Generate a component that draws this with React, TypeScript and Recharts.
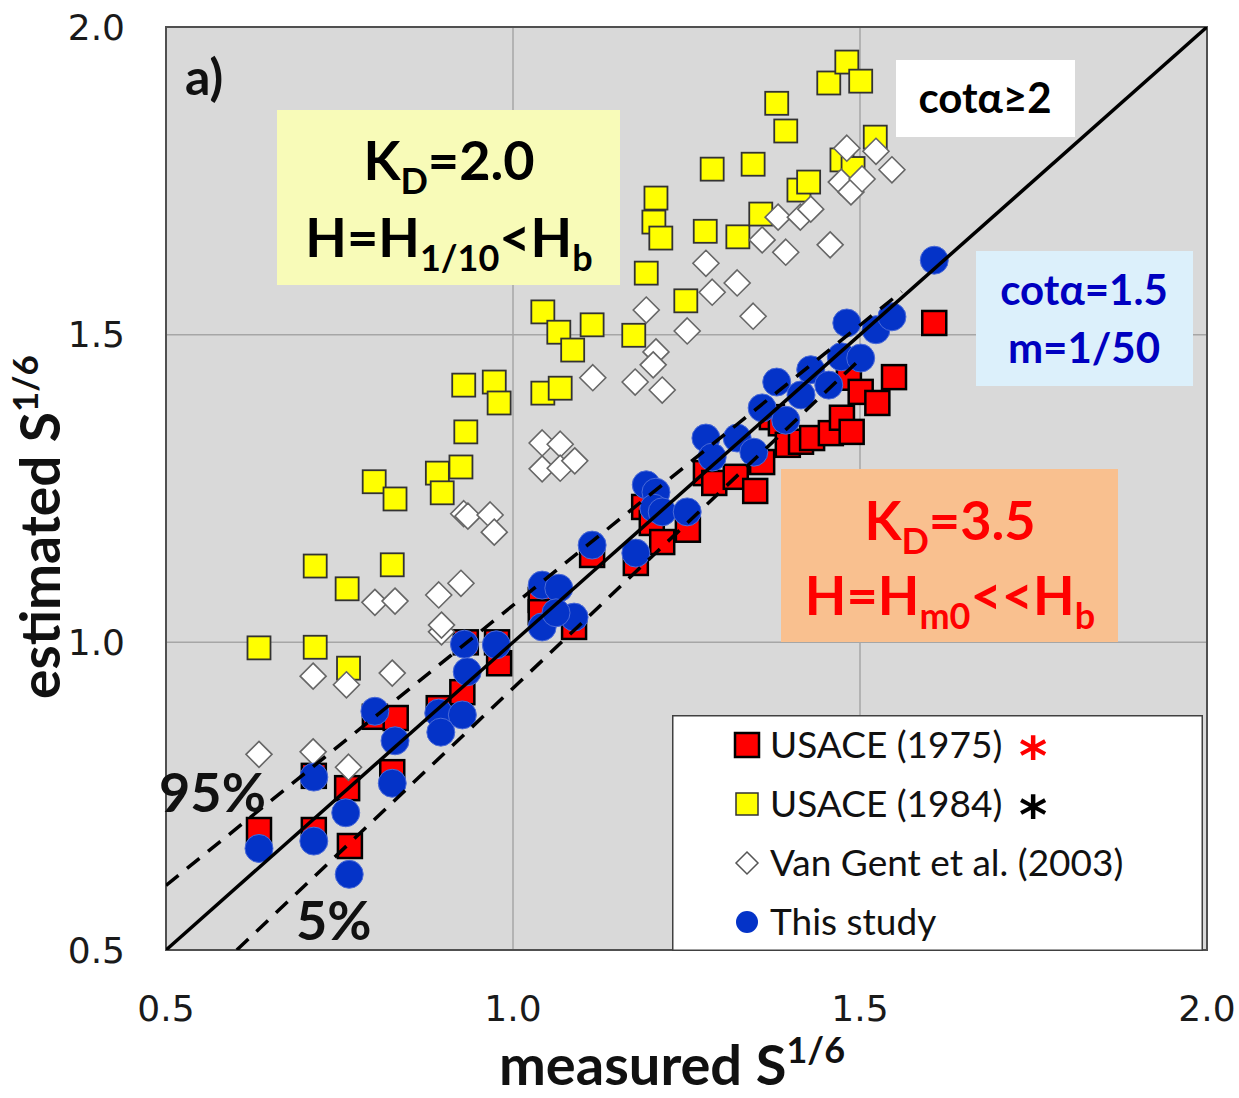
import {
  ScatterChart,
  Scatter,
  XAxis,
  YAxis,
  CartesianGrid,
  Legend,
  ReferenceArea,
} from 'recharts';

type Pt = { x: number; y: number };

const pts = (rows: number[][]): Pt[] => rows.map(([x, y]) => ({ x, y }));

const AXIS_TICKS = [0.5, 1.0, 1.5, 2.0];

// USACE (1975), K_D = 3.5, H = Hm0
const usace1975 = pts([
  [0.634, 0.695], [0.713, 0.695], [0.765, 0.669], [0.761, 0.763], [0.713, 0.783],
  [0.826, 0.789], [0.801, 0.879], [0.831, 0.877], [0.893, 0.893], [0.927, 0.919],
  [0.98, 0.966], [0.932, 1.0], [0.977, 1.0], [1.04, 1.069], [1.04, 1.049],
  [1.088, 1.025], [1.114, 1.142], [1.177, 1.129], [1.189, 1.22], [1.2, 1.194],
  [1.215, 1.163], [1.252, 1.183], [1.278, 1.275], [1.29, 1.259], [1.321, 1.269],
  [1.349, 1.246], [1.359, 1.293], [1.373, 1.366], [1.386, 1.356], [1.396, 1.321],
  [1.415, 1.326], [1.431, 1.332], [1.458, 1.34], [1.474, 1.365], [1.488, 1.342],
  [1.484, 1.43], [1.501, 1.407], [1.525, 1.389], [1.549, 1.431], [1.607, 1.519],
]);

// USACE (1984), K_D = 2.0, H = H1/10
const usace1984 = pts([
  [0.634, 0.991], [0.715, 1.124], [0.715, 0.992], [0.761, 1.087], [0.763, 0.958],
  [0.8, 1.261], [0.83, 1.233], [0.826, 1.126], [0.891, 1.275], [0.898, 1.243],
  [0.925, 1.285], [0.932, 1.342], [0.929, 1.418], [0.973, 1.423], [0.98, 1.389],
  [1.043, 1.405], [1.068, 1.413], [1.043, 1.537], [1.066, 1.504], [1.086, 1.475],
  [1.114, 1.516], [1.174, 1.499], [1.192, 1.6], [1.203, 1.683], [1.206, 1.722],
  [1.213, 1.657], [1.249, 1.555], [1.277, 1.668], [1.287, 1.769], [1.324, 1.659],
  [1.346, 1.777], [1.357, 1.696], [1.38, 1.876], [1.393, 1.831], [1.412, 1.735],
  [1.426, 1.748], [1.455, 1.909], [1.481, 1.943], [1.501, 1.912], [1.474, 1.784],
  [1.49, 1.77], [1.522, 1.821],
]);

// Van Gent et al. (2003)
const vanGent2003 = pts([
  [0.634, 0.818], [0.712, 0.822], [0.763, 0.797], [0.712, 0.945], [0.76, 0.931],
  [0.826, 0.95], [0.897, 1.017], [0.897, 1.028], [0.893, 1.077], [0.925, 1.096],
  [0.801, 1.065], [0.83, 1.067], [0.929, 1.209], [0.935, 1.205], [0.967, 1.207],
  [0.973, 1.179], [1.042, 1.324], [1.068, 1.322], [1.042, 1.282], [1.068, 1.283],
  [1.089, 1.295], [1.115, 1.43], [1.176, 1.423], [1.215, 1.41], [1.206, 1.472],
  [1.202, 1.451], [1.192, 1.54], [1.251, 1.506], [1.278, 1.616], [1.287, 1.569],
  [1.323, 1.584], [1.346, 1.53], [1.359, 1.654], [1.393, 1.634], [1.457, 1.646],
  [1.382, 1.691], [1.414, 1.691], [1.429, 1.704], [1.481, 1.803], [1.523, 1.798],
  [1.546, 1.768], [1.473, 1.748], [1.487, 1.732], [1.503, 1.753],
]);

// This study
const thisStudy = pts([
  [0.634, 0.665], [0.713, 0.677], [0.764, 0.623], [0.713, 0.781], [0.759, 0.723],
  [0.826, 0.771], [0.801, 0.888], [0.83, 0.84], [0.893, 0.885], [0.927, 0.882],
  [0.896, 0.854], [0.93, 0.997], [0.934, 0.952], [0.976, 0.996], [1.042, 1.093],
  [1.066, 1.088], [1.042, 1.025], [1.088, 1.041], [1.062, 1.048], [1.114, 1.158],
  [1.177, 1.145], [1.192, 1.256], [1.206, 1.244], [1.203, 1.218], [1.215, 1.212],
  [1.251, 1.212], [1.278, 1.332], [1.287, 1.301], [1.323, 1.332], [1.347, 1.309],
  [1.359, 1.381], [1.38, 1.423], [1.393, 1.361], [1.415, 1.402], [1.429, 1.443],
  [1.455, 1.418], [1.473, 1.464], [1.501, 1.462], [1.481, 1.519], [1.523, 1.508],
  [1.546, 1.529], [1.607, 1.621],
]);

// 1:1 line and the 95% / 5% bands
const oneToOne = pts([[0.5, 0.5], [2.0, 2.0]]);
const band95 = pts([[0.5, 0.605], [1.56, 1.57]]);
const band5 = pts([[0.602, 0.5], [1.5, 1.46]]);

const RedSquare = ({ cx, cy }: any) => (
  <rect x={cx - 12} y={cy - 12} width={24} height={24} fill="#ff0000" stroke="#000" strokeWidth={2.5} />
);
const YellowSquare = ({ cx, cy }: any) => (
  <rect x={cx - 11.5} y={cy - 11.5} width={23} height={23} fill="#ffff00" stroke="#333" strokeWidth={1.8} />
);
const Diamond = ({ cx, cy }: any) => (
  <path
    d={`M${cx},${cy - 13} L${cx + 13},${cy} L${cx},${cy + 13} L${cx - 13},${cy} Z`}
    fill="#fff"
    stroke="#666"
    strokeWidth={1.6}
  />
);
const BlueDot = ({ cx, cy }: any) => (
  <circle cx={cx} cy={cy} r={14} fill="#0433c8" stroke="#4a6ad8" strokeWidth={1} />
);
const NoDot = () => <g />;

const LEGEND_ROWS = [
  { label: 'USACE (1975)', star: '#ff0000' },
  { label: 'USACE (1984)', star: '#000' },
  { label: 'Van Gent et al. (2003)', star: '' },
  { label: 'This study', star: '' },
];

const renderLegend = () => (
  <svg width={531} height={236} style={{ display: 'block' }}>
    <rect x={0.75} y={0.75} width={529.5} height={234.5} fill="#fff" stroke="#404040" strokeWidth={1.5} />
    {LEGEND_ROWS.map((row, i) => {
      const cy = 30 + i * 59;
      const cx = 75;
      return (
        <g key={row.label}>
          {i === 0 && <RedSquare cx={cx} cy={cy} />}
          {i === 1 && <rect x={cx - 11} y={cy - 11} width={22} height={22} fill="#ffff00" stroke="#333" strokeWidth={1.5} />}
          {i === 2 && (
            <path d={`M${cx},${cy - 11} L${cx + 11},${cy} L${cx},${cy + 11} L${cx - 11},${cy} Z`} fill="#fff" stroke="#555" strokeWidth={1.5} />
          )}
          {i === 3 && <circle cx={cx} cy={cy} r={11} fill="#0433c8" />}
          <text x={98} y={cy + 13} fontFamily="Lato, 'Noto Sans', sans-serif" fontSize={37} fill="#111">
            {row.label}
          </text>
          {row.star && (
            <text x={361} y={cy + 30} textAnchor="middle" fontFamily="'DejaVu Sans', sans-serif" fontWeight={700} fontSize={54} fill={row.star}>
              *
            </text>
          )}
        </g>
      );
    })}
  </svg>
);

const FONT = "Lato, 'Noto Sans', sans-serif";

export default function App() {
  return (
    <div style={{ position: 'absolute', left: 0, top: 0, width: 1239, height: 1098, background: '#fff' }}>
      <ScatterChart width={1239} height={1098} margin={{ top: 27, right: 32, bottom: 88, left: 106 }}>
        <CartesianGrid stroke="#a6a6a6" strokeWidth={1.5} fill="#d9d9d9" fillOpacity={1} />
        <XAxis
          type="number"
          dataKey="x"
          domain={[0.5, 2]}
          ticks={AXIS_TICKS}
          allowDataOverflow
          height={60}
          tickSize={0}
          tickMargin={45}
          tickFormatter={(v: number) => v.toFixed(1)}
          axisLine={{ stroke: '#505050', strokeWidth: 2 }}
          tick={{ fontFamily: "'DejaVu Sans', sans-serif", fontSize: 36, fill: '#1a1a1a' }}
        />
        <YAxis
          type="number"
          dataKey="y"
          domain={[0.5, 2]}
          ticks={AXIS_TICKS}
          allowDataOverflow
          width={60}
          tickSize={0}
          tickMargin={41}
          tickFormatter={(v: number) => v.toFixed(1)}
          axisLine={{ stroke: '#505050', strokeWidth: 2 }}
          tick={{ fontFamily: "'DejaVu Sans', sans-serif", fontSize: 36, fill: '#1a1a1a' }}
        />
        <ReferenceArea x1={0.5} x2={2} y1={0.5} y2={2} fill="#fff" fillOpacity={0} stroke="#505050" strokeWidth={2} />
        <Scatter name="USACE (1975)" data={usace1975} shape={RedSquare} isAnimationActive={false} />
        <Scatter name="USACE (1984)" data={usace1984} shape={YellowSquare} isAnimationActive={false} />
        <Scatter name="Van Gent et al. (2003)" data={vanGent2003} shape={Diamond} isAnimationActive={false} />
        <Scatter name="This study" data={thisStudy} shape={BlueDot} isAnimationActive={false} />
        <Scatter data={band95} shape={NoDot} line={{ stroke: '#000', strokeWidth: 3.5, strokeDasharray: '16 11' }} legendType="none" isAnimationActive={false} />
        <Scatter data={band5} shape={NoDot} line={{ stroke: '#000', strokeWidth: 3.5, strokeDasharray: '16 11' }} legendType="none" isAnimationActive={false} />
        <Scatter data={oneToOne} shape={NoDot} line={{ stroke: '#000', strokeWidth: 3.5 }} legendType="none" isAnimationActive={false} />
        <Legend
          layout="horizontal"
          verticalAlign="middle"
          align="center"
          content={renderLegend}
          wrapperStyle={{ position: 'absolute', left: 672, top: 715, width: 531, height: 236 }}
        />
      </ScatterChart>

      {/* annotations on top of the plot */}
      <svg width={1239} height={1098} style={{ position: 'absolute', left: 0, top: 0, pointerEvents: 'none' }} fontFamily={FONT}>
        <text x={185} y={95} fontSize={50} fontWeight={700} fill="#111">a)</text>

        <rect x={277} y={110} width={343} height={175} fill="#f8fbb8" />
        <text x={449} y={180} textAnchor="middle" fontSize={54} fontWeight={700} fill="#000">
          K<tspan fontSize={36} dy={14}>D</tspan><tspan dy={-14}>=2.0</tspan>
        </text>
        <text x={449} y={257} textAnchor="middle" fontSize={54} fontWeight={700} fill="#000">
          H=H<tspan fontSize={36} dy={14}>1/10</tspan><tspan dy={-14}>&lt;H</tspan><tspan fontSize={36} dy={14}>b</tspan>
        </text>

        <rect x={896} y={60} width={179} height={77} fill="#fff" />
        <text x={985} y={113} textAnchor="middle" fontSize={42} fontWeight={700} fill="#000">cotα≥2</text>

        <rect x={976} y={251} width={217} height={135} fill="#dcf0fb" />
        <text x={1084} y={305} textAnchor="middle" fontSize={42} fontWeight={700} fill="#0000c0">cotα=1.5</text>
        <text x={1084} y={363} textAnchor="middle" fontSize={42} fontWeight={700} fill="#0000c0">m=1/50</text>

        <rect x={781} y={469} width={337} height={173} fill="#f9c08f" />
        <text x={950} y={540} textAnchor="middle" fontSize={54} fontWeight={700} fill="#ff0000">
          K<tspan fontSize={36} dy={14}>D</tspan><tspan dy={-14}>=3.5</tspan>
        </text>
        <text x={950} y={615} textAnchor="middle" fontSize={54} fontWeight={700} fill="#ff0000">
          H=H<tspan fontSize={36} dy={14}>m0</tspan><tspan dy={-14}>&lt;&lt;H</tspan><tspan fontSize={36} dy={14}>b</tspan>
        </text>

        <text x={159} y={812} fontSize={54} fontWeight={700} fill="#111">95%</text>
        <text x={296} y={940} fontSize={54} fontWeight={700} fill="#111">5%</text>

        <text x={672} y={1085} textAnchor="middle" fontSize={56} fontWeight={700} fill="#111">
          measured S<tspan fontSize={36} dy={-22}>1/6</tspan>
        </text>
        <text x={60} y={527} textAnchor="middle" fontSize={55} fontWeight={700} fill="#111" transform="rotate(-90 60 527)">
          estimated S<tspan fontSize={35} dy={-22}>1/6</tspan>
        </text>
      </svg>
    </div>
  );
}
